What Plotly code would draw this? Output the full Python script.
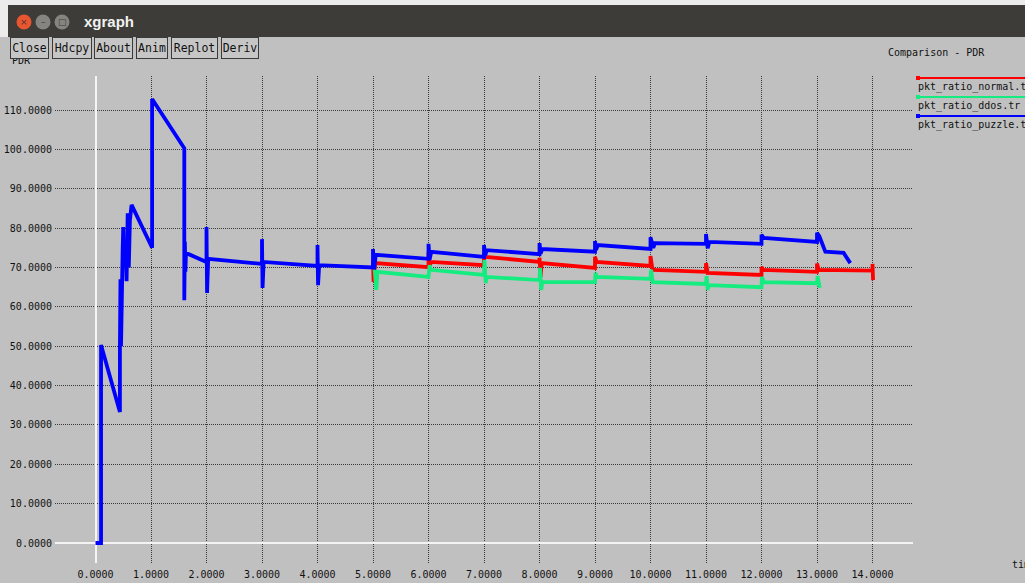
import plotly.graph_objects as go

# ---------------- data ----------------
normal_x = [5.00, 5.01, 5.04, 6.00, 6.00, 6.02, 6.05, 7.00, 7.00, 7.03, 8.00, 8.00, 8.02, 8.04,
            9.00, 9.00, 9.03, 10.00, 10.00, 10.03, 10.06, 11.00, 11.00, 11.03, 12.00, 12.00, 12.03,
            13.00, 13.00, 13.03, 14.00, 14.00, 14.01]
normal_y = [72.0, 66.3, 71.1, 70.1, 74.0, 70.5, 71.4, 70.6, 73.2, 72.7, 71.4, 72.5, 67.6, 71.1,
            69.9, 72.7, 71.4, 70.4, 72.9, 70.0, 69.4, 68.9, 71.1, 68.6, 68.1, 70.1, 69.4,
            68.9, 71.0, 69.4, 69.2, 70.9, 66.8]

ddos_x = [5.03, 5.06, 5.08, 6.00, 6.02, 6.04, 7.00, 7.01, 7.03, 7.05, 8.00, 8.01, 8.03, 8.05,
          9.00, 9.01, 9.03, 10.00, 10.01, 10.04, 11.00, 11.01, 11.03, 11.05, 12.00, 12.01, 12.04,
          13.00, 13.01, 13.05]
ddos_y = [69.5, 64.3, 68.9, 67.6, 70.6, 69.4, 68.1, 71.9, 66.0, 67.6, 66.8, 69.9, 64.3, 66.3,
          66.3, 68.6, 67.6, 67.1, 69.4, 66.3, 65.8, 67.8, 64.3, 65.5, 65.0, 67.6, 66.3,
          66.0, 67.8, 64.8]

puzzle_x = [0.00, 0.10, 0.10, 0.44, 0.44, 0.45, 0.46, 0.47, 0.49, 0.50, 0.51, 0.53, 0.55, 0.56,
            0.58, 0.60, 0.62, 0.65, 1.02, 1.02, 1.60, 1.60, 1.61, 1.62, 1.63,
            2.00, 2.00, 2.01, 2.03, 3.00, 3.00, 3.01, 3.03, 4.00, 4.00, 4.01, 4.03,
            5.00, 5.00, 5.02, 5.05, 6.00, 6.00, 6.02, 6.05, 7.00, 7.00, 7.02, 7.05,
            8.00, 8.00, 8.02, 8.05, 9.00, 9.00, 9.02, 9.05, 10.00, 10.00, 10.05, 10.08,
            11.00, 11.00, 11.03, 11.06, 12.00, 12.00, 12.04, 13.00, 13.00, 13.04, 13.15,
            13.48, 13.60]
puzzle_y = [0.0, 0.0, 50.3, 33.3, 50.0, 67.0, 50.0, 67.0, 75.0, 80.3, 70.0, 75.0, 72.0, 66.5,
            83.8, 70.0, 82.0, 85.9, 75.0, 112.8, 100.3, 61.7, 76.5, 68.9, 73.7,
            71.4, 80.3, 63.5, 72.2, 70.9, 77.2, 64.8, 71.4, 70.4, 75.7, 65.5, 70.6,
            70.0, 74.7, 69.5, 73.2, 72.2, 76.0, 72.0, 74.0, 72.7, 75.7, 73.0, 74.4,
            73.4, 76.2, 73.5, 74.7, 74.0, 76.7, 74.5, 75.7, 74.7, 77.7, 75.0, 76.2,
            76.0, 78.5, 74.9, 76.5, 76.0, 78.3, 77.5, 76.5, 78.8, 78.0, 74.0,
            73.7, 71.1]

series_names = ["pkt_ratio_normal.tr", "pkt_ratio_ddos.tr", "pkt_ratio_puzzle.tr"]
series_colors = ["#ff0000", "#14ec80", "#0000ff"]
buttons = ["Close", "Hdcpy", "About", "Anim", "Replot", "Deriv"]
x_ticks = list(range(0, 15))
y_ticks = list(range(0, 111, 10))

# ---------------- layout helpers ----------------
W, H = 1025, 583
L, R, T, B = 55, 913, 76, 563   # plot area in pixels
MONO = "DejaVu Sans Mono"
BG = "#c0c0c0"


def px(x):
    return (x - L) / (R - L)


def py(y):
    return (B - y) / (B - T)


fig = go.Figure()
for xs, ys, name, col in zip([normal_x, ddos_x, puzzle_x], [normal_y, ddos_y, puzzle_y],
                             series_names, series_colors):
    fig.add_trace(go.Scatter(x=xs, y=ys, mode="lines", name=name,
                             line=dict(color=col, width=3.8), showlegend=False,
                             hoverinfo="skip"))

shapes = []
annotations = []

# window frame + title bar
shapes.append(dict(type="rect", xref="paper", yref="paper", x0=px(0), x1=px(W), y0=py(0), y1=py(37),
                   fillcolor="#ececec", line=dict(width=0), layer="above"))
shapes.append(dict(type="rect", xref="paper", yref="paper", x0=px(8), x1=px(W), y0=py(5), y1=py(37),
                   fillcolor="#3d3c38", line=dict(width=0), layer="above"))
# window buttons
for cx, col, sym in [(24, "#e9552f", "×"), (43, "#85847f", "–"), (62, "#85847f", "□")]:
    shapes.append(dict(type="circle", xref="paper", yref="paper", x0=px(cx - 7.5), x1=px(cx + 7.5),
                       y0=py(22 - 7.5), y1=py(22 + 7.5), fillcolor=col, line=dict(width=0), layer="above"))
    annotations.append(dict(x=px(cx), y=py(22), xref="paper", yref="paper", text=sym, showarrow=False,
                            font=dict(family="DejaVu Sans", size=9, color="#4a3a35"),
                            xanchor="center", yanchor="middle"))
annotations.append(dict(x=px(82), y=py(21), xref="paper", yref="paper", text="<b>xgraph</b>",
                        showarrow=False, font=dict(family="Liberation Sans", size=15, color="#f2f2f2"),
                        xanchor="left", yanchor="middle"))

# y-axis caption partly hidden behind the buttons
annotations.append(dict(x=px(10), y=py(61), xref="paper", yref="paper", text="PDR", showarrow=False,
                        font=dict(family=MONO, size=10, color="#111"), xanchor="left", yanchor="middle"))

# toolbar buttons
btn_edges = [(10, 49), (52, 92), (94, 133), (136, 168), (171, 218), (221, 259)]
for label, (a, b) in zip(buttons, btn_edges):
    annotations.append(dict(x=px((a + b) / 2), y=py(48), xref="paper", yref="paper", text=label,
                            showarrow=False, font=dict(family=MONO, size=11.5, color="#111"),
                            xanchor="center", yanchor="middle", width=b - a - 4, height=18,
                            bgcolor="#c6c6c6", bordercolor="#3a3a3a", borderwidth=1, borderpad=1))

# chart title
annotations.append(dict(x=px(886), y=py(53), xref="paper", yref="paper", text="Comparison - PDR",
                        showarrow=False, font=dict(family=MONO, size=10, color="#111"),
                        xanchor="left", yanchor="middle"))

# legend
for i, (name, col) in enumerate(zip(series_names, series_colors)):
    ly = 78 + i * 19
    shapes.append(dict(type="line", xref="paper", yref="paper", x0=px(917), x1=px(W + 5),
                       y0=py(ly), y1=py(ly), line=dict(color=col, width=2), layer="above"))
    shapes.append(dict(type="rect", xref="paper", yref="paper", x0=px(916), x1=px(920),
                       y0=py(ly - 2), y1=py(ly + 2), fillcolor=col, line=dict(width=0), layer="above"))
    annotations.append(dict(x=px(916), y=py(ly + 9), xref="paper", yref="paper", text=name,
                            showarrow=False, font=dict(family=MONO, size=10, color="#111"),
                            xanchor="left", yanchor="middle"))

# x-axis caption (clipped by the window edge)
annotations.append(dict(x=px(1010), y=py(564), xref="paper", yref="paper", text="time",
                        showarrow=False, font=dict(family=MONO, size=10, color="#111"),
                        xanchor="left", yanchor="middle"))

x0 = -40.5 / 55.5
x1 = x0 + (R - L) / 55.5
y0 = -(B - 543) / 3.936
y1 = y0 + (B - T) / 3.936

grid_style = dict(showgrid=True, gridcolor="#3a3a3a", griddash="1px,1px", gridwidth=1, automargin=False,
                  zeroline=True, zerolinecolor="#f4f4f4", zerolinewidth=2, showline=False,
                  ticks="", tickfont=dict(family=MONO, size=10, color="#111"), tickformat=".4f",
                  tickmode="array")

fig.update_layout(
    width=W, height=H,
    margin=dict(l=L, r=W - R, t=T, b=H - B, pad=0, autoexpand=False),
    paper_bgcolor=BG, plot_bgcolor=BG,
    shapes=shapes, annotations=annotations,
    xaxis=dict(range=[x0, x1], tickvals=x_ticks, ticklabelstandoff=4, **grid_style),
    yaxis=dict(range=[y0, y1], tickvals=y_ticks, ticklabelstandoff=2, **grid_style),
)

fig.write_html("out.html", config={"displayModeBar": False},
               post_script="document.body.style.margin='0';document.body.style.overflow='hidden';")
